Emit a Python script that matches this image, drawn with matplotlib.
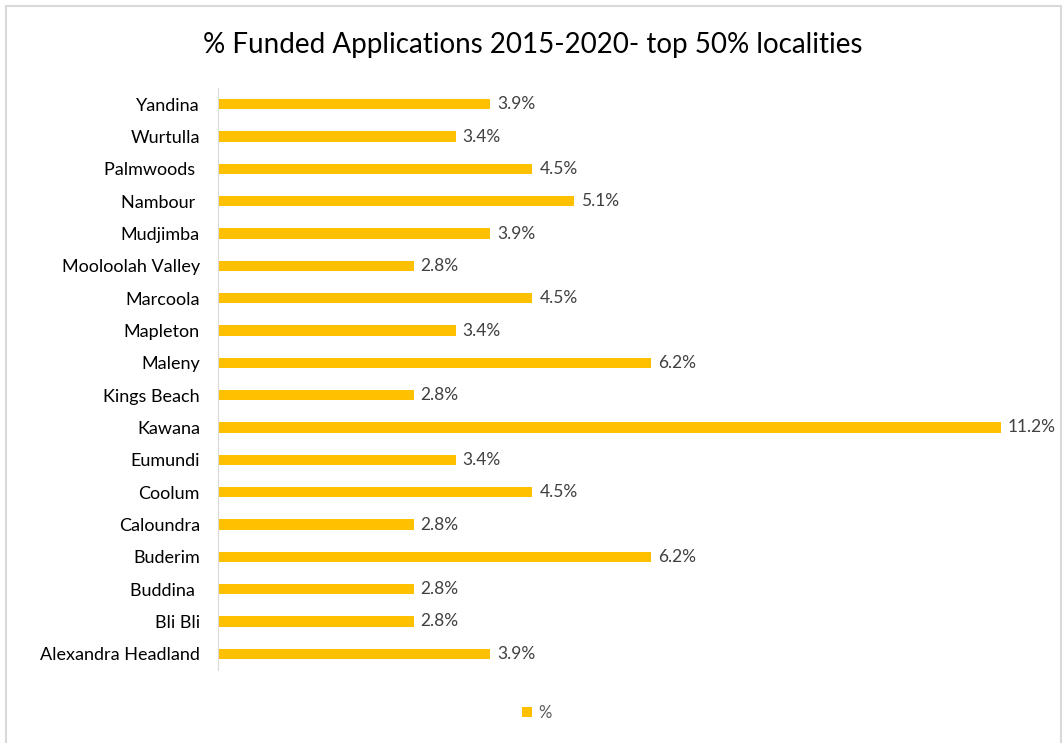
import matplotlib
matplotlib.use("Agg")
import matplotlib.pyplot as plt
from matplotlib.patches import Rectangle

# data (top to bottom as shown)
localities = ["Yandina", "Wurtulla", "Palmwoods ", "Nambour ", "Mudjimba", "Mooloolah Valley",
              "Marcoola", "Mapleton", "Maleny", "Kings Beach", "Kawana", "Eumundi", "Coolum",
              "Caloundra", "Buderim", "Buddina ", "Bli Bli", "Alexandra Headland"]
pct = [3.9, 3.4, 4.5, 5.1, 3.9, 2.8, 4.5, 3.4, 6.2, 2.8, 11.2, 3.4, 4.5, 2.8, 6.2, 2.8, 2.8, 3.9]

bar_color = "#FFC000"
text_color = "#404040"

plt.rcParams['font.family'] = ['Lato', 'DejaVu Sans']

fig = plt.figure(figsize=(10.63, 7.43), dpi=100)
ax = fig.add_axes([218/1063, 1-670/743, (1032-218)/1063, (670-88)/743])

ypos = list(range(len(localities)))[::-1]
ax.barh(ypos, pct, height=0.31, color=bar_color, label="%")
for y, v in zip(ypos, pct):
    ax.text(v + 0.1, y, f"{v:.1f}%", va="center", ha="left", fontsize=12.5, color=text_color)

ax.set_yticks(ypos)
ax.set_yticklabels(localities, fontsize=13, color="#000000")
ax.set_ylim(-0.5, len(localities) - 0.5)
ax.set_xlim(0, 11.65)
ax.set_xticks([])
ax.tick_params(axis="y", length=0, pad=13)
for s in ["top", "right", "bottom"]:
    ax.spines[s].set_visible(False)
ax.spines["left"].set_color("#d9d9d9")

fig.text(533/1063, 1-45/743, "% Funded Applications 2015-2020- top 50% localities",
         ha="center", va="center", fontsize=20, color="#000000")

leg = fig.legend(loc="center", bbox_to_anchor=(537/1063, 1-713/743), frameon=False,
                 fontsize=12, handlelength=0.6, handleheight=0.6, handletextpad=0.4)
for t in leg.get_texts():
    t.set_color("#595959")

fig.patches.append(Rectangle((6/1063, -0.01), (1061-6)/1063, 1.0 - 6/743 + 0.01,
                             transform=fig.transFigure, fill=False, edgecolor="#d9d9d9", lw=1.5))

fig.savefig("out.png", dpi=100)
